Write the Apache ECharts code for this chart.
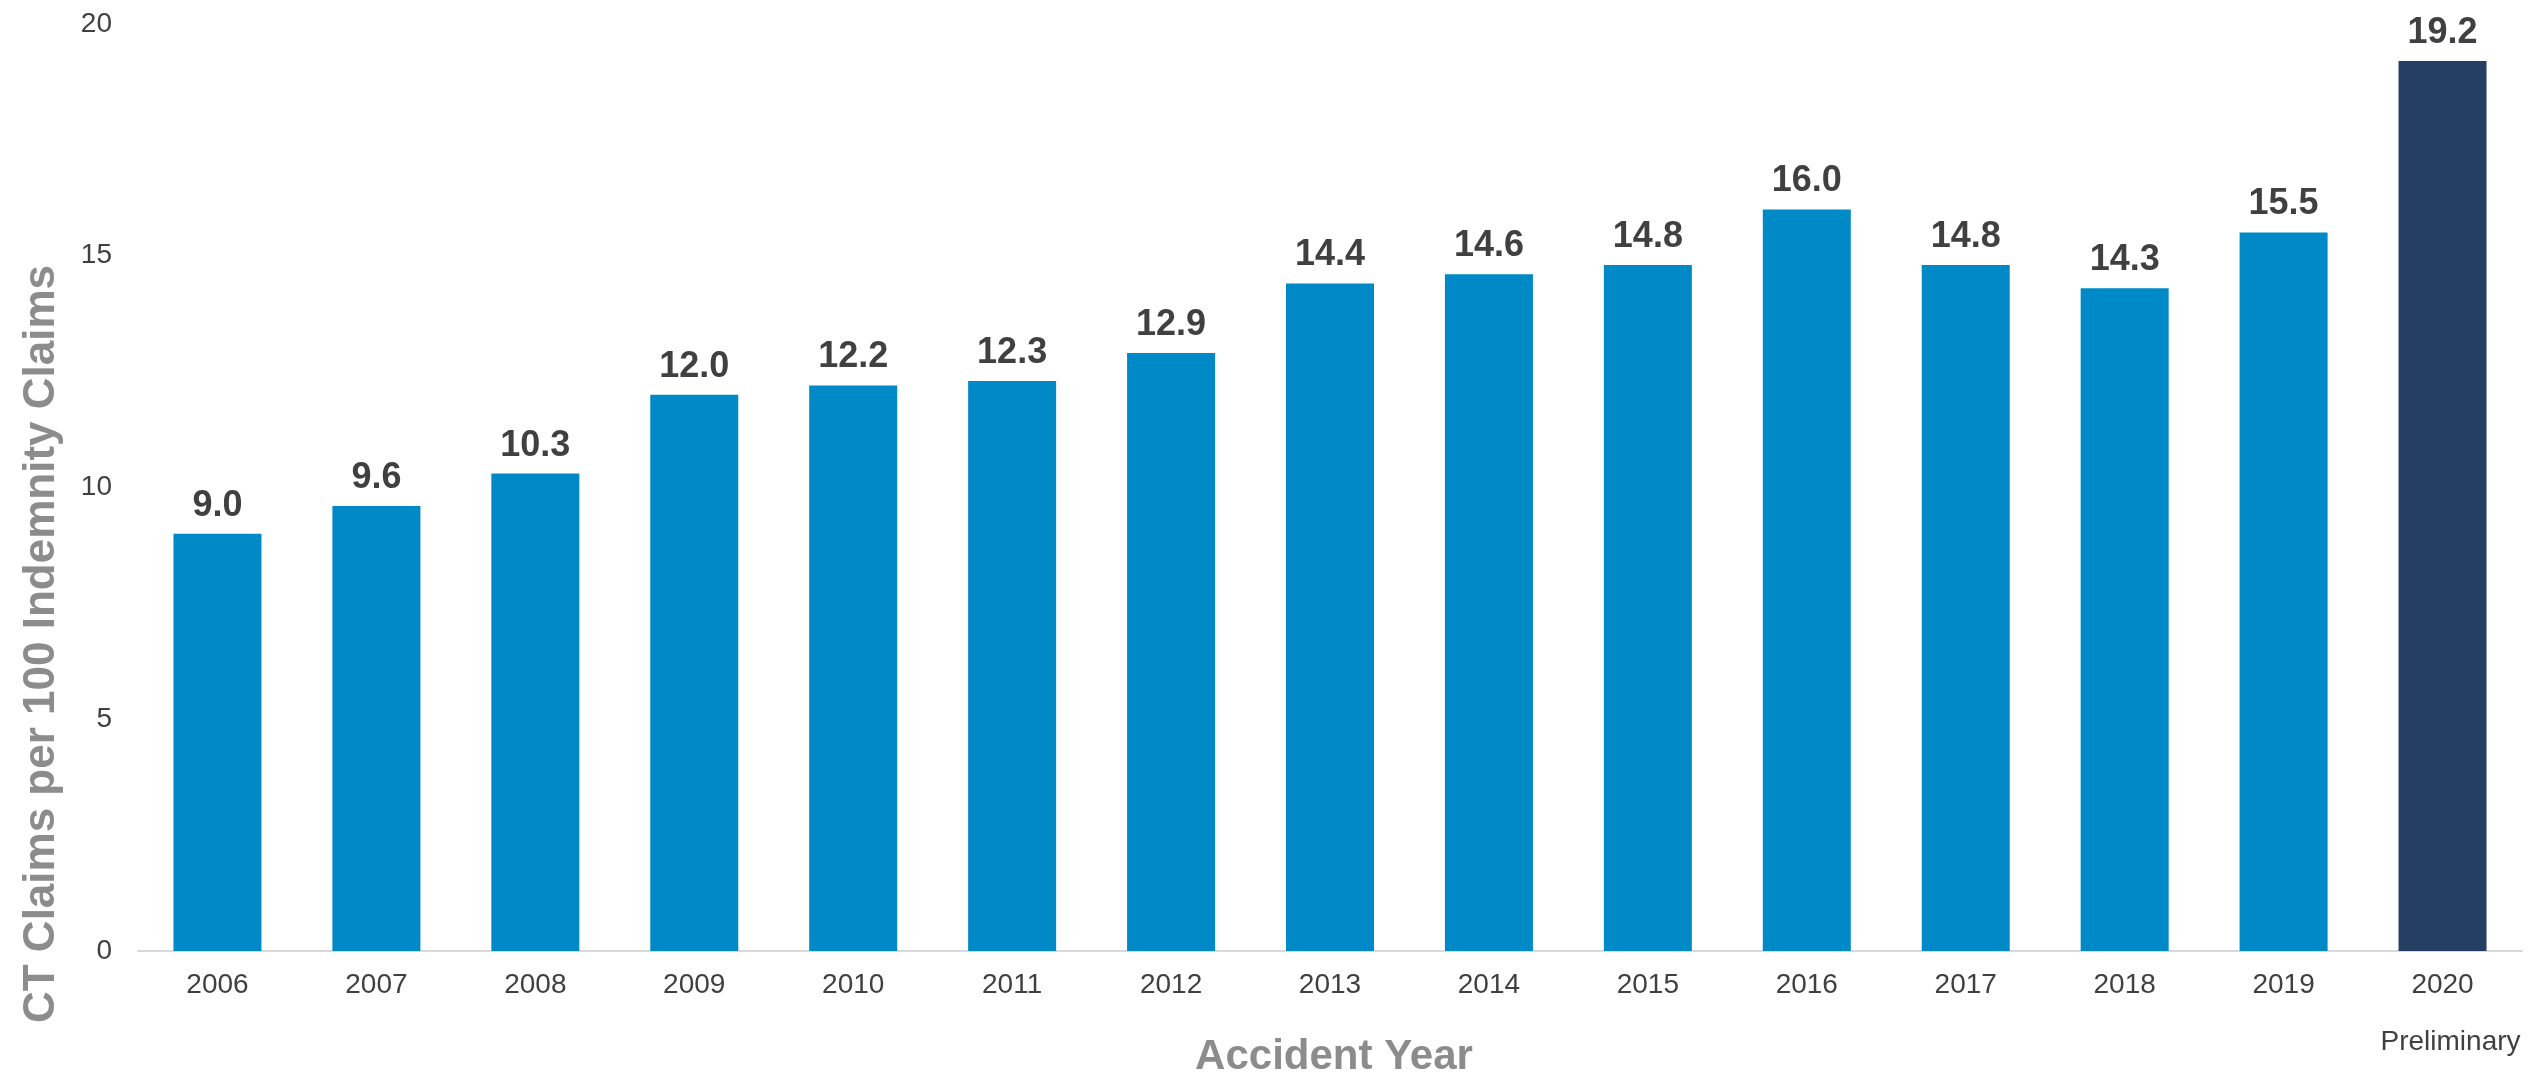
<!DOCTYPE html>
<html>
<head>
<meta charset="utf-8">
<script src="https://cdn.jsdelivr.net/npm/echarts@6/dist/echarts.min.js"></script>
<style>
  html, body { margin: 0; padding: 0; background: #fff; }
  #ctChart { width: 2541px; height: 1076px; }
</style>
</head>
<body>
<div id="ctChart"></div>
<script>
var years = ['2006', '2007', '2008', '2009', '2010', '2011', '2012', '2013', '2014', '2015', '2016', '2017', '2018', '2019', '2020'];
var ctRates = [9.0, 9.6, 10.3, 12.0, 12.2, 12.3, 12.9, 14.4, 14.6, 14.8, 16.0, 14.8, 14.3, 15.5, 19.2];
var yTicks = [0, 5, 10, 15, 20];

var ctChart = echarts.init(document.getElementById('ctChart'));
var fontName = 'Arial, "Liberation Sans", sans-serif';

// 最后一年（初步数据）用深色
var barData = ctRates.map(function (v, i) {
	return {
		value: v,
		itemStyle: { color: i == years.length - 1 ? '#243F61' : '#0089C7' }
	};
});

var option = {
	animation: false,
	textStyle: { fontFamily: fontName },
	grid: {
		left: 138,
		right: 19,
		top: 24,
		bottom: 125,
		containLabel: false,
		outerBoundsMode: 'none'
	},
	xAxis: {
		type: 'category',
		data: years,
		axisLine: { lineStyle: { color: '#D9D9D9', width: 2 } },
		axisTick: { show: false },
		axisLabel: {
			interval: 0,
			margin: 20,
			color: '#404040',
			fontSize: 28,
			fontFamily: fontName,
			formatter: function (val) {
				if (val == '2020') {
					return '{y|' + val + '}\n{p|Preliminary}';
				}
				return '{y|' + val + '}';
			},
			rich: {
				y: { fontSize: 28, lineHeight: 28, color: '#404040', fontFamily: fontName },
				p: { fontSize: 28, lineHeight: 86, color: '#404040', fontFamily: fontName, padding: [0, 0, 0, 16] }
			}
		}
	},
	yAxis: {
		type: 'value',
		min: yTicks[0],
		max: yTicks[yTicks.length - 1],
		interval: 5,
		axisLine: { show: false },
		axisTick: { show: false },
		splitLine: { show: false },
		axisLabel: {
			margin: 26,
			color: '#404040',
			fontSize: 28,
			fontFamily: fontName
		}
	},
	graphic: [{
		// 纵轴标题
		type: 'text',
		x: 42,
		y: 644,
		rotation: Math.PI / 2,
		style: {
			text: 'CT Claims per 100 Indemnity Claims',
			fill: '#8C8C8C',
			font: 'bold 44px ' + fontName,
			align: 'center',
			verticalAlign: 'middle'
		}
	}, {
		// 横轴标题
		type: 'text',
		x: 1334,
		y: 1057,
		style: {
			text: 'Accident Year',
			fill: '#8C8C8C',
			font: 'bold 42px ' + fontName,
			align: 'center',
			verticalAlign: 'middle'
		}
	}],
	series: [{
		type: 'bar',
		data: barData,
		barWidth: 88,
		label: {
			show: true,
			position: 'top',
			distance: 10,
			color: '#404040',
			fontSize: 36,
			fontWeight: 'bold',
			fontFamily: fontName,
			formatter: function (p) {
				return p.value.toFixed(1);
			}
		}
	}]
};

ctChart.setOption(option);
</script>
</body>
</html>
